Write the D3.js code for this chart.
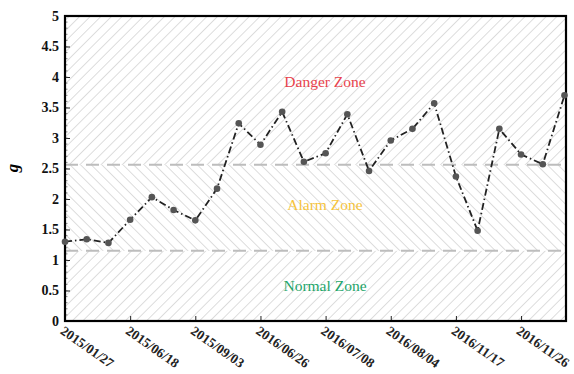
<!DOCTYPE html>
<html><head><meta charset="utf-8">
<script src="https://cdn.jsdelivr.net/npm/d3@7"></script>
<style>body{margin:0;background:#fff}svg{display:block}</style>
</head><body>
<svg id="c" width="574" height="374"></svg>
<script>
const tickLabels = ["2015/01/27","2015/06/18","2015/09/03","2016/06/26","2016/07/08","2016/08/04","2016/11/17","2016/11/26"];
const tickIndex = [0,3,6,9,12,15,18,21];
const gValues = [1.30,1.34,1.28,1.66,2.03,1.82,1.65,2.17,3.24,2.89,3.43,2.61,2.75,3.39,2.46,2.96,3.15,3.57,2.37,1.48,3.15,2.73,2.57,3.70];
const thresholds = [2.56,1.15];
const zones = [{name:"Danger Zone",color:"#e8434d",y:3.84},{name:"Alarm Zone",color:"#f6c43e",y:1.82},{name:"Normal Zone",color:"#1ea56a",y:0.5}];
const yTicks = [0,0.5,1,1.5,2,2.5,3,3.5,4,4.5,5];

const svg = d3.select("#c");
const m = {l:65,r:566,t:16,b:321};
const x = d3.scaleLinear().domain([0,gValues.length-1]).range([m.l,m.r-1.5]);
const y = d3.scaleLinear().domain([0,5]).range([m.b,m.t]);

const defs = svg.append("defs");
function hatch(id, angle){
  const p = defs.append("pattern").attr("id",id).attr("patternUnits","userSpaceOnUse")
    .attr("width",7.5).attr("height",7.5).attr("patternTransform",`rotate(${angle})`);
  p.append("line").attr("x1",0).attr("y1",0).attr("x2",0).attr("y2",7.5)
    .attr("stroke","#c6c6c6").attr("stroke-width",1.2);
}
hatch("hR",45); hatch("hL",-45);

svg.append("rect").attr("x",m.l).attr("y",y(5)).attr("width",m.r-m.l).attr("height",y(thresholds[0])-y(5)).attr("fill","url(#hR)");
svg.append("rect").attr("x",m.l).attr("y",y(thresholds[0])).attr("width",m.r-m.l).attr("height",y(thresholds[1])-y(thresholds[0])).attr("fill","url(#hL)");
svg.append("rect").attr("x",m.l).attr("y",y(thresholds[1])).attr("width",m.r-m.l).attr("height",y(0)-y(thresholds[1])).attr("fill","url(#hR)");

thresholds.forEach(t=>{
  svg.append("line").attr("x1",m.l).attr("x2",m.r).attr("y1",y(t)).attr("y2",y(t))
    .attr("stroke","#bdbdbd").attr("stroke-width",2).attr("stroke-dasharray","13,8");
});

zones.forEach(z=>{
  svg.append("text").attr("x",325).attr("y",y(z.y)).attr("text-anchor","middle")
    .attr("font-family","Liberation Serif").attr("font-size",15.5).attr("fill",z.color).text(z.name);
});

// y axis
const yAxis = d3.axisLeft(y).tickValues(yTicks).tickSize(-5).tickPadding(6).tickFormat(d3.format("~g"));
const ya = svg.append("g").attr("transform",`translate(${m.l},0)`).call(yAxis);
ya.select(".domain").remove();
ya.selectAll("text").attr("font-family","Liberation Serif").attr("font-weight","bold").attr("font-size",14).attr("fill","#111");
ya.selectAll("line").attr("stroke","#222");
const minor = d3.range(0,5.001,0.1);
svg.append("g").selectAll("line").data(minor).join("line")
  .attr("x1",m.l).attr("x2",m.l+2.5).attr("y1",d=>y(d)).attr("y2",d=>y(d)).attr("stroke","#666").attr("stroke-width",0.8);

// x axis
const xAxis = d3.axisBottom(x).tickValues(tickIndex).tickSize(-5).tickFormat((d,i)=>tickLabels[i]);
const xa = svg.append("g").attr("transform",`translate(0,${m.b})`).call(xAxis);
xa.select(".domain").remove();
xa.selectAll("line").attr("stroke","#222");
xa.selectAll("text").attr("font-family","Liberation Serif").attr("font-weight","bold").attr("font-size",13.5).attr("fill","#222")
  .attr("text-anchor","start").attr("dy",null).attr("y",0)
  .attr("transform","translate(-6,12) rotate(35)");

// frame
svg.append("rect").attr("x",m.l).attr("y",m.t).attr("width",m.r-m.l).attr("height",m.b-m.t)
  .attr("fill","none").attr("stroke","#000").attr("stroke-width",2.2);

// line
const line = d3.line().x((d,i)=>x(i)).y(d=>y(d));
svg.append("path").datum(gValues).attr("d",line).attr("fill","none").attr("stroke","#222")
  .attr("stroke-width",1.8).attr("stroke-dasharray","7,3,1.5,3");
svg.append("g").selectAll("circle").data(gValues).join("circle")
  .attr("cx",(d,i)=>x(i)).attr("cy",d=>y(d)).attr("r",3.3).attr("fill","#555");

// y label
svg.append("text").attr("transform","translate(18,168) rotate(-90)").attr("text-anchor","middle")
  .attr("font-family","Liberation Serif").attr("font-style","italic").attr("font-weight","bold").attr("font-size",17).text("g");
</script>
</body></html>
